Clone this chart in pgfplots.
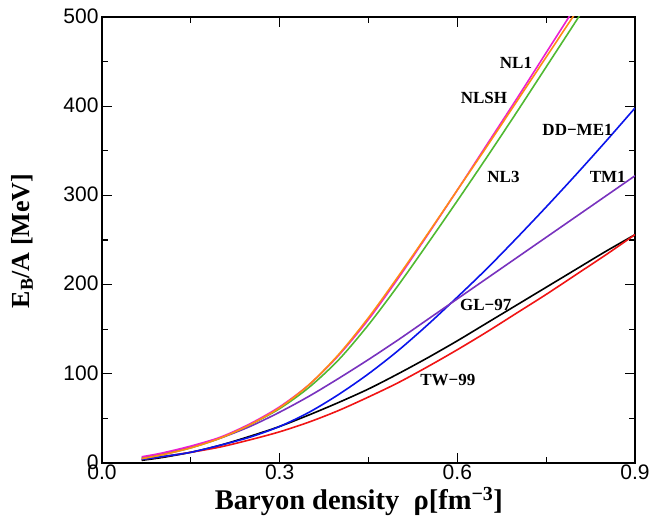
\documentclass[border=0pt]{standalone}
\usepackage{fontspec}
\setmainfont{Liberation Serif}
\newfontfamily\hv{Liberation Sans}
\usepackage{pgfplots}
\pgfplotsset{compat=1.18}
\definecolor{cNLone}{RGB}{235,30,210}
\definecolor{cNLSH}{RGB}{255,140,20}
\definecolor{cNLthree}{RGB}{80,185,50}
\definecolor{cDD}{RGB}{10,20,235}
\definecolor{cTM}{RGB}{120,50,190}
\definecolor{cTW}{RGB}{240,20,20}
\begin{document}
\begin{tikzpicture}
\begin{axis}[
  name=main,
  scale only axis, width=533pt, height=446pt,
  xmin=0, xmax=0.9, ymin=0, ymax=500,
  xtick={0,0.3,0.6,0.9}, minor xtick={0.15,0.45,0.75},
  ytick={0,100,200,300,400,500}, minor ytick={50,150,250,350,450},
  major tick length=10pt, minor tick length=6pt,
  tick style={line width=1.3pt, black},
  axis line style={line width=1.6pt},
  /pgf/number format/assume math mode=true,
  ticklabel style={font=\hv\fontsize{21}{21}\selectfont},
  x tick label style={/pgf/number format/.cd, fixed, fixed zerofill, precision=1, /tikz/.cd, inner ysep=2pt},
  y tick label style={yshift=1pt},
  xlabel={Baryon density\ \ ρ[fm\textsuperscript{−3}]},
  ylabel={E\textsubscript{B}/A [MeV]},
  xlabel style={font=\bfseries\fontsize{28.5}{28.5}\selectfont, at={(axis description cs:0.482,-0.104)}, anchor=base},
  ylabel style={font=\bfseries\fontsize{26}{26}\selectfont, at={(axis description cs:-0.150,0.498)}, anchor=center},
  every axis plot/.append style={line width=1.6pt, smooth},
  clip=true,
]
% GL-97
\addplot[black] coordinates {(0.067,3) (0.10,6) (0.15,12) (0.20,20) (0.25,30) (0.30,41) (0.35,54) (0.40,68) (0.45,83) (0.50,100) (0.55,118) (0.60,137) (0.65,157) (0.70,177) (0.75,197) (0.80,217) (0.85,237) (0.90,256)};
% TW-99
\addplot[cTW] coordinates {(0.067,4) (0.10,7) (0.15,12) (0.20,18) (0.25,26) (0.30,35) (0.35,46) (0.40,59) (0.45,74) (0.50,90) (0.55,108) (0.60,127) (0.65,147) (0.70,168) (0.75,189) (0.80,211) (0.85,233) (0.90,256)};
% DD-ME1
\addplot[cDD] coordinates {(0.067,4) (0.10,7) (0.15,12) (0.20,20) (0.25,29) (0.30,41) (0.35,57) (0.40,77) (0.45,100) (0.50,126) (0.55,155) (0.60,186) (0.65,218) (0.70,252) (0.75,287) (0.80,323) (0.85,360) (0.90,398)};
% TM1
\addplot[cTM] coordinates {(0.067,6) (0.10,10) (0.15,18) (0.20,28) (0.25,41) (0.30,57) (0.35,75) (0.40,95) (0.45,116) (0.50,138) (0.55,161) (0.60,184) (0.65,207) (0.70,230) (0.75,253) (0.80,276) (0.85,299) (0.90,322)};
% NL3
\addplot[cNLthree] coordinates {(0.067,5) (0.10,9) (0.15,17) (0.20,28) (0.25,43) (0.30,61) (0.35,85) (0.40,116) (0.45,155) (0.50,199) (0.55,246) (0.60,294) (0.65,343) (0.70,393) (0.75,444) (0.80,495) (0.82,516)};
% NL1
\addplot[cNLone] coordinates {(0.067,7) (0.10,11) (0.15,19) (0.20,29) (0.25,44) (0.30,63) (0.35,88) (0.40,121) (0.45,161) (0.50,207) (0.55,256) (0.60,306) (0.65,357) (0.70,408) (0.75,460) (0.80,512) (0.82,533)};
% NLSH
\addplot[cNLSH] coordinates {(0.067,5) (0.10,9) (0.15,17) (0.20,28) (0.25,43) (0.30,62) (0.35,88) (0.40,122) (0.45,163) (0.50,209) (0.55,257) (0.60,306) (0.65,355) (0.70,405) (0.75,455) (0.80,505) (0.82,525)};
\begin{scope}[every node/.style={font=\bfseries\fontsize{17}{17}\selectfont}]
\node at (axis cs:0.699,449) {NL1};
\node at (axis cs:0.645,409) {NLSH};
\node at (axis cs:0.803,373) {DD−ME1};
\node at (axis cs:0.678,321) {NL3};
\node at (axis cs:0.854,321) {TM1};
\node at (axis cs:0.648,177) {GL−97};
\node at (axis cs:0.584,93) {TW−99};
\end{scope}
\end{axis}
\pgfresetboundingbox
\path[use as bounding box] ([xshift=-102pt,yshift=-62pt]main.south west) rectangle ([xshift=16pt,yshift=17pt]main.north east);
\end{tikzpicture}
\end{document}
